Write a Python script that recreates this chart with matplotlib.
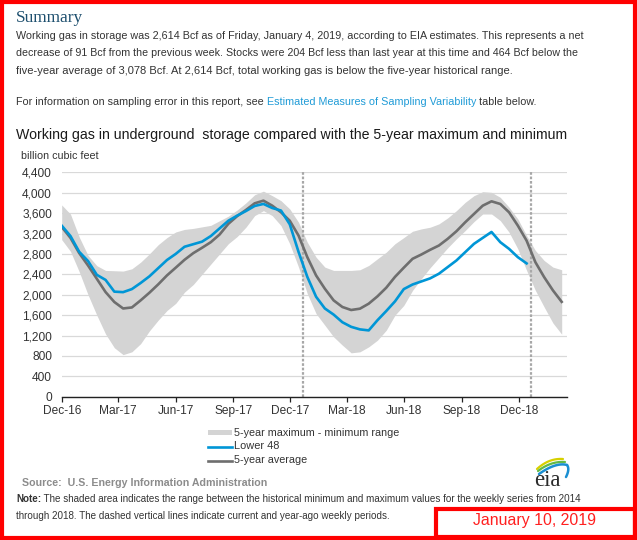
"""
plot.py

Weekly working gas in underground storage vs. the 5-year max/min band
(EIA weekly storage report, January 10, 2019).
"""

import numpy as np
import pandas as pd
import matplotlib
matplotlib.use("Agg")
import matplotlib.pyplot as plt
import matplotlib.dates as mdates
from matplotlib.patches import Rectangle
from matplotlib.lines import Line2D

W, H = 637, 540

# ---- data (Bcf), one value every two weeks ----
dates = pd.date_range("2016-12-23", periods=58, freq="14D")

five_yr_max = [3760, 3580, 3130, 2770, 2570, 2476, 2470, 2463, 2508, 2638,
               2801, 2980, 3120, 3230, 3280, 3300, 3330, 3360, 3450, 3540,
               3660, 3800, 3960, 4030, 3942, 3844, 3681, 3420, 3029, 2736,
               2541, 2476, 2476, 2476, 2489, 2573, 2704, 2834, 3000, 3120,
               3244, 3290, 3323, 3388, 3505, 3648, 3811, 3942, 4020, 4007,
               3909, 3714, 3485, 3160, 2867, 2671, 2541, 2489]

five_yr_min = [3080, 2850, 2450, 2000, 1600, 1230, 960, 825, 880, 1040,
               1290, 1500, 1690, 1830, 2050, 2200, 2400, 2600, 2800, 3000,
               3140, 3323, 3551, 3648, 3551, 3355, 2997, 2541, 2020, 1629,
               1401, 1173, 1010, 860, 880, 977, 1108, 1303, 1600, 1790,
               2085, 2313, 2528, 2723, 2919, 3095, 3258, 3433, 3583, 3583,
               3453, 3225, 2899, 2476, 2085, 1759, 1446, 1225]

five_yr_avg = [3330, 3114, 2815, 2573, 2313, 2052, 1857, 1730, 1750, 1889,
               2039, 2202, 2378, 2530, 2684, 2815, 2920, 3030, 3180, 3390,
               3540, 3661, 3792, 3844, 3746, 3616, 3450, 3160, 2736, 2378,
               2117, 1889, 1759, 1700, 1726, 1824, 1968, 2137, 2350, 2530,
               2704, 2788, 2880, 2964, 3095, 3244, 3420, 3583, 3746, 3831,
               3779, 3616, 3355, 3060, 2638, 2345, 2085, 1860]

lower_48 = [3355, 3150, 2840, 2660, 2390, 2290, 2060, 2050, 2110, 2230,
            2360, 2520, 2680, 2800, 2940, 2990, 3040, 3150, 3300, 3450,
            3550, 3640, 3740, 3780, 3700, 3650, 3380, 2840, 2350, 1960,
            1730, 1610, 1460, 1370, 1320, 1300, 1500, 1680, 1870, 2110,
            2200, 2260, 2320, 2411, 2541, 2671, 2834, 2997, 3114, 3230,
            3030, 2899, 2736, 2614]

tick_dates = ["2016-12-23", "2017-03-23", "2017-06-23", "2017-09-23",
              "2017-12-23", "2018-03-23", "2018-06-23", "2018-09-23",
              "2018-12-23"]
marker_dates = ["2018-01-12", "2019-01-11"]   # year-ago / current week
x_range = ["2016-12-23", "2019-03-09"]
y_ticks = list(range(0, 4401, 400))

BLUE = "#0096d6"
GRAY = "#6e6e6e"
BAND = "#d4d4d4"
RED = "#ff0000"
TXT = "#333333"
SANS = ["Liberation Sans", "DejaVu Sans"]
SERIF = ["Liberation Serif", "DejaVu Serif"]


def fpos(x, y):
    """pixel position (from top-left) -> figure fraction"""
    return x / W, 1 - y / H


def fit_text(fig, x, y, s, width, **kw):
    t = fig.text(*fpos(x, y), s, **kw)
    r = fig.canvas.get_renderer()
    w = t.get_window_extent(r).width
    t.set_fontsize(t.get_fontsize() * width / w)
    return t


def draw_header(fig):
    fit_text(fig, 16, 18, "Summary", 67, family=SERIF,
             color="#1d4f6e", va="center", fontsize=12)
    lines = [
        ("Working gas in storage was 2,614 Bcf as of Friday, January 4, 2019, "
         "according to EIA estimates. This represents a net", 36, 563),
        ("decrease of 91 Bcf from the previous week. Stocks were 204 Bcf less "
         "than last year at this time and 464 Bcf below the", 53.5, 560),
        ("five-year average of 3,078 Bcf. At 2,614 Bcf, total working gas is "
         "below the five-year historical range.", 71, 494),
    ]
    for s, y, wd in lines:
        fit_text(fig, 16, y, s, wd, family=SANS, color=TXT, va="center", fontsize=7)

    # line with the link in it
    parts = [("For information on sampling error in this report, see ", TXT),
             ("Estimated Measures of Sampling Variability", "#1f9bd7"),
             (" table below.", TXT)]
    probe = fit_text(fig, 16, 102, "".join(p for p, _ in parts), 514,
                     family=SANS, va="center", fontsize=7)
    fs = probe.get_fontsize()
    probe.remove()
    r = fig.canvas.get_renderer()
    x = 16
    for s, c in parts:
        t = fig.text(*fpos(x, 102), s, family=SANS, color=c, va="center", fontsize=fs)
        x = t.get_window_extent(r).x1

    fit_text(fig, 16, 135, "Working gas in underground  storage compared with "
             "the 5-year maximum and minimum", 554, family=SANS, color="#1a1a1a",
             va="center", fontsize=10)
    fit_text(fig, 21, 156, "billion cubic feet", 76, family=SANS, color=TXT,
             va="center", fontsize=7)


def draw_chart(fig):
    l, r_, t_, b = 61.7, 566.7, 172.3, 396.7
    ax = fig.add_axes([l / W, 1 - b / H, (r_ - l) / W, (b - t_) / H])

    ax.fill_between(dates, five_yr_min, five_yr_max, color=BAND, lw=0, zorder=1)
    ax.plot(dates, five_yr_avg, color=GRAY, lw=1.9, zorder=3)
    ax.plot(dates[:len(lower_48)], lower_48, color=BLUE, lw=1.9, zorder=4)
    for d in marker_dates:
        ax.axvline(pd.Timestamp(d), color="#a8a8a8", lw=1.6, ls=(0, (1.2, 0.8)), zorder=2)

    ax.set_xlim(pd.Timestamp(x_range[0]), pd.Timestamp(x_range[1]))
    ax.set_ylim(0, 4400)
    ax.set_yticks(y_ticks)
    ax.set_yticklabels([f"{v:,}" for v in y_ticks])
    ax.set_xticks([pd.Timestamp(d) for d in tick_dates])
    ax.xaxis.set_major_formatter(mdates.DateFormatter("%b-%y"))

    ax.grid(axis="y", color="#d9d9d9", lw=0.9, zorder=0)
    ax.set_axisbelow(True)
    for s in ("left", "right", "top"):
        ax.spines[s].set_visible(False)
    ax.spines["bottom"].set_color("#222222")
    ax.spines["bottom"].set_linewidth(1.0)
    ax.tick_params(axis="y", length=0, pad=7, labelsize=8.6, labelcolor=TXT)
    ax.tick_params(axis="x", length=3.6, width=0.9, pad=2.4, labelsize=8.6,
                   labelcolor=TXT, color="#222222")
    for lab in ax.get_xticklabels() + ax.get_yticklabels():
        lab.set_family(SANS)
    return ax


def draw_logo(fig):
    # small axes in pixel units (y downwards) for the eia mark
    lg = fig.add_axes([525 / W, 1 - 497 / H, 55 / W, 42 / H])
    lg.set_xlim(525, 580)
    lg.set_ylim(497, 455)
    lg.axis("off")
    lg.text(547.5, 486, "eia", family=SERIF, fontsize=16.5, color="#2b2b2b",
            ha="center", va="baseline", zorder=1)
    s = np.linspace(0, 1, 40)[:, None]
    arcs = [([537, 469], [549, 458], [563, 459], "#d6d000", 1.6),
            ([538, 471], [551, 461], [565, 462], "#62b946", 1.6),
            ([539, 474], [556, 462], [567, 465], "#1b8fd2", 1.8),
            ([567, 465], [570, 469], [566, 477], "#1b8fd2", 1.8)]
    for p0, p1, p2, c, w in arcs:
        p0, p1, p2 = map(np.array, (p0, p1, p2))
        pts = (1 - s) ** 2 * p0 + 2 * s * (1 - s) * p1 + s ** 2 * p2
        lg.plot(pts[:, 0], pts[:, 1], color=c, lw=w, solid_capstyle="round", zorder=2)


def draw_footer(fig):
    # legend
    fig.add_artist(Rectangle(fpos(208, 435), 24 / W, 5 / H, transform=fig.transFigure,
                             facecolor=BAND, edgecolor="none"))
    for y, c in ((446.5, BLUE), (460.5, GRAY)):
        x0, y0 = fpos(208, y)
        x1, _ = fpos(232, y)
        fig.add_artist(Line2D([x0, x1], [y0, y0], color=c, lw=1.9,
                              transform=fig.transFigure))
    for s, y, wd in (("5-year maximum - minimum range", 432.5, 164),
                     ("Lower 48", 446, 45),
                     ("5-year average", 460, 73)):
        fit_text(fig, 233.5, y, s, wd, family=SANS, color=TXT, va="center", fontsize=7.5)

    fit_text(fig, 22, 483, "Source:  U.S. Energy Information Administration", 244,
             family=SANS, color="#8c8c8c", weight="bold", va="center", fontsize=7.5)

    fs = fit_text(fig, 16, 499, "Note: The shaded area indicates the range between the "
                  "historical minimum and maximum values for the weekly series from 2014",
                  566, family=SANS, color=TXT, va="center", fontsize=6.5)
    fs.set_text("")
    size = fs.get_fontsize()
    t = fig.text(*fpos(16, 499), "Note:", family=SANS, color=TXT, weight="bold",
                 va="center", fontsize=size)
    x = t.get_window_extent(fig.canvas.get_renderer()).x1
    fig.text(*fpos(x, 499), " The shaded area indicates the range between the historical "
             "minimum and maximum values for the weekly series from 2014",
             family=SANS, color=TXT, va="center", fontsize=size)
    fig.text(*fpos(16, 516), "through 2018. The dashed vertical lines indicate current "
             "and year-ago weekly periods.", family=SANS, color=TXT, va="center",
             fontsize=size)

    draw_logo(fig)

    # frame and date box
    fig.add_artist(Rectangle((2 / W, 2 / H), (W - 4) / W, (H - 4) / H,
                             transform=fig.transFigure, fill=False, edgecolor=RED, lw=3))
    fig.add_artist(Rectangle(fpos(436, 537), (W - 438) / W, 28 / H,
                             transform=fig.transFigure, fill=False, edgecolor=RED, lw=3))
    fit_text(fig, 473, 521, "January 10, 2019", 123, family=SANS, color="#ff2020",
             va="center", fontsize=10)


def main():
    fig = plt.figure(figsize=(W / 100, H / 100), dpi=100, facecolor="white")
    draw_header(fig)
    draw_chart(fig)
    draw_footer(fig)
    fig.savefig("out.png", dpi=100, facecolor="white")


if __name__ == "__main__":
    main()
